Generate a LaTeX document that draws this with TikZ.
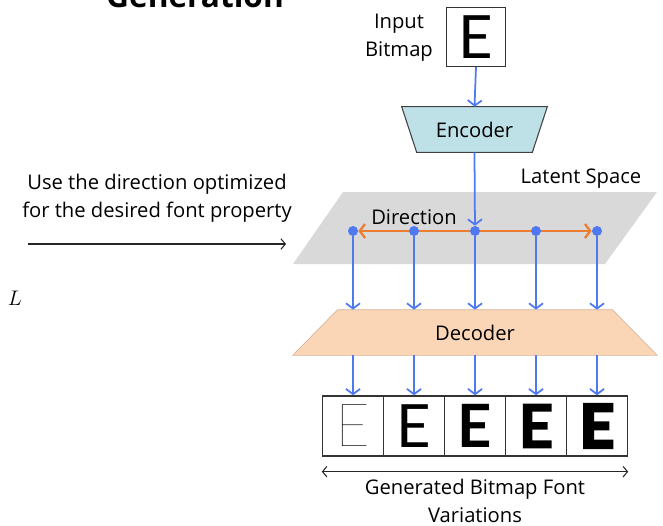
\documentclass[tikz,border=0pt]{standalone}
\usepackage{fontspec}
\setmainfont{Open Sans}
% weights for the bitmap glyphs
\newfontfamily\glyphRegular{Lato}
\newfontfamily\glyphBold{Lato}[UprightFont=*-Bold]
\newfontfamily\glyphXBold{Lato}[UprightFont=*-Bold, FakeBold=2.5]
\newfontfamily\glyphHeavy{Lato}[UprightFont=*-Bold, FakeBold=5]
\IfFontExistsTF{Lato Hairline}{\newfontfamily\glyphThin{Lato Hairline}}{\newfontfamily\glyphThin{Lato}}
\usetikzlibrary{arrows.meta,backgrounds}

\definecolor{arrowblue}{RGB}{78,121,240}
\definecolor{dirorange}{RGB}{237,125,49}
\definecolor{encfill}{RGB}{190,225,231}
\definecolor{decfill}{RGB}{250,214,183}
\definecolor{planegray}{RGB}{217,217,217}

\newcommand{\bigE}[1]{{#1\fontsize{34}{34}\selectfont E}}

\begin{document}
\begin{tikzpicture}[x=0.02cm,y=-0.02cm,
	font=\fontsize{11.5}{16}\selectfont,
	flow/.style={arrowblue, line width=1pt, -{Straight Barb[length=3pt,width=8pt]}},
	dot/.style={circle, fill=arrowblue, inner sep=0pt, minimum size=0.2cm},
	bitmap/.style={draw=black!80, line width=0.8pt, minimum width=1.22cm, minimum height=1.2cm, inner sep=0pt},
	block/.style={minimum height=0.9cm, inner sep=0pt}]
	\useasboundingbox (0,0) rectangle (663,525);

	\node[font=\fontsize{18}{18}\selectfont\bfseries, anchor=base] (title) at (195,7) {Generation};

	% input
	\node[bitmap, minimum width=1.18cm, minimum height=1.18cm] (inbox) at (476,37) {\bigE\glyphRegular};
	\node[align=center] (inlabel) at (399,38) {Input\\Bitmap};

	% encoder
	\node[block, minimum width=2.9cm] (enc) at (474.5,129.5) {Encoder};
	\begin{pgfonlayer}{background}
	\filldraw[fill=encfill, draw=black!75, line width=0.6pt]
	(enc.north west) -- (enc.north east) -- ([xshift=-0.3cm]enc.south east) -- ([xshift=0.3cm]enc.south west) -- cycle;
	\end{pgfonlayer}

	% latent space
	\foreach \i/\x in {1/353,2/414,3/475,4/536,5/597}
		\node[dot] (d\i) at (\x,231) {};
	\begin{pgfonlayer}{background}
	\fill[planegray] (343,192) -- (657,192) -- (605,264) -- (293,264) -- cycle;
	\draw[dirorange, line width=1.3pt, {Straight Barb[length=3pt,width=8pt]}-{Straight Barb[length=3pt,width=8pt]}] (d1) -- (d5);
	\end{pgfonlayer}
	\node (latent) at (581,179) {Latent Space};
	\node (dir) at (414,217) {Direction};
	\draw[flow] (inbox.south) -- (enc.north);
	\draw[flow] (enc.south) -- (d3);

	% hint on the left
	\node[align=center] (hint) at (157,198) {Use the direction optimized\\for the desired font property};
	\coordinate (hs) at (28,244);
	\coordinate (he) at (286,244);
	\draw[black!85, line width=0.6pt, -{Straight Barb[length=2.5pt,width=6pt]}] (hs) -- (he);
	\node (lbl) at (15,298) {$L$};

	% decoder
	\node[block, minimum width=5.48cm] (dec) at (475,332.5) {Decoder};
	\begin{pgfonlayer}{background}
	\filldraw[fill=decfill, draw=decfill!85!black, line width=0.4pt]
	(dec.north west) -- (dec.north east) -- ([xshift=0.9cm]dec.south east) -- ([xshift=-0.9cm]dec.south west) -- cycle;
	\end{pgfonlayer}

	% generated variations
	\foreach \i/\x/\w in {1/353/\glyphThin,2/414/\glyphRegular,3/475/\glyphBold,4/536/\glyphXBold,5/597/\glyphHeavy}{
		\node[bitmap] (out\i) at (\x,426) {\bigE\w};
		\draw[flow] (d\i) -- (d\i |- dec.north);
		\draw[flow] (d\i |- dec.south) -- (out\i.north);
	}
	\draw[black!85, line width=0.6pt, {Straight Barb[length=2.5pt,width=6pt]}-{Straight Barb[length=2.5pt,width=6pt]}]
	([yshift=-0.3cm]out1.south west) -- ([yshift=-0.3cm]out5.south east);
	\node[align=center] (outlabel) at (475,501) {Generated Bitmap Font\\Variations};
\end{tikzpicture}
\end{document}
